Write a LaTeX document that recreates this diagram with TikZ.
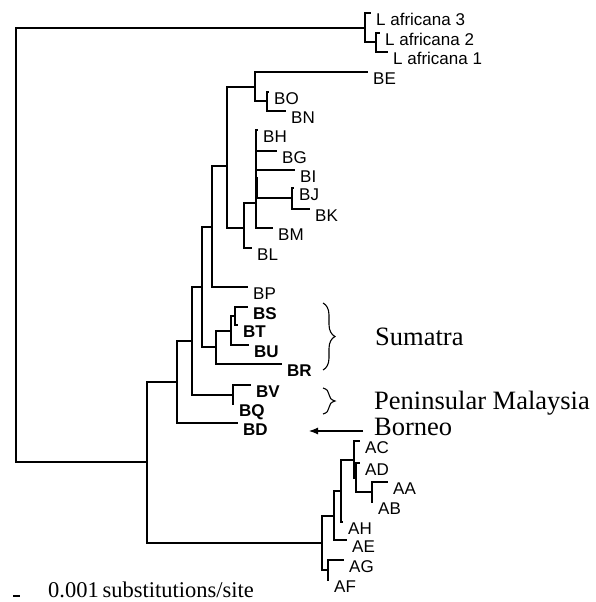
\documentclass[tikz,border=0pt]{standalone}
\usepackage{fontspec}
\setmainfont{Liberation Serif}
\setsansfont{Liberation Sans}
\usetikzlibrary{arrows.meta,decorations.pathreplacing}
\begin{document}
\begin{tikzpicture}[x=1bp,y=-1bp,
  br/.style={line width=1.3bp},
  thickbr/.style={line width=2.6bp},
  lab/.style={anchor=base west, inner sep=0pt, xshift=5bp, yshift=-12.3bp, font=\sffamily\fontsize{17bp}{20bp}\selectfont},
  blab/.style={lab, font=\sffamily\bfseries\fontsize{17bp}{20bp}\selectfont},
  region/.style={anchor=base west, inner sep=0pt, font=\rmfamily\fontsize{26.5bp}{30bp}\selectfont},
  brc/.style={decorate, decoration={brace, amplitude=12bp}, line width=1.1bp}]
\useasboundingbox (0,0) rectangle (596,602);
% ---------- internal nodes ----------
\coordinate (root) at (16,245);
\coordinate (laf) at (365,28);
\coordinate (laf2) at (376,42);
\coordinate (nE) at (147,462);
\coordinate (nD) at (177,382);
\coordinate (nC) at (192,341);
\coordinate (nBVQ) at (233,395);
\coordinate (nB) at (202,287);
\coordinate (nSum) at (216,347);
\coordinate (nSum2) at (231,331);
\coordinate (nSum3) at (235,316);
\coordinate (nA) at (212,227);
\coordinate (nBig) at (227,166);
\coordinate (nBEO) at (255,87);
\coordinate (nBON) at (267,101);
\coordinate (nBL) at (244,228);
\coordinate (nH) at (256,203);
\coordinate (nBJK) at (292,198);
\coordinate (nF) at (322,543);
\coordinate (nAFG) at (328,570);
\coordinate (nG) at (334,516);
\coordinate (nHn) at (341,491);
\coordinate (nI) at (354,460);
\coordinate (nJ) at (356,478);
\coordinate (nAAB) at (372,492);
% ---------- tips ----------
\coordinate (tLA3) at (371,13);
\coordinate (tLA2) at (380,33);
\coordinate (tLA1) at (388,52);
\coordinate (tBE) at (368,72);
\coordinate (tBO) at (269,92);
\coordinate (tBN) at (286,111);
\coordinate (tBH) at (258,130);
\coordinate (tBG) at (277,151);
\coordinate (tBI) at (295,170);
\coordinate (tBJ) at (294,188);
\coordinate (tBK) at (310,209);
\coordinate (tBM) at (273,228);
\coordinate (tBL) at (252,248);
\coordinate (tBP) at (248,287);
\coordinate (tBS) at (248,307);
\coordinate (tBT) at (238,325);
\coordinate (tBU) at (249,345);
\coordinate (tBR) at (282,364);
\coordinate (tBV) at (251,385);
\coordinate (tBQ) at (234,404);
\coordinate (tBD) at (238,423);
\coordinate (tAC) at (360,441);
\coordinate (tAD) at (360,463);
\coordinate (tAA) at (388,482);
\coordinate (tAB) at (373,502);
\coordinate (tAH) at (343,522);
\coordinate (tAE) at (347,540);
\coordinate (tAG) at (344,560);
\coordinate (tAF) at (329,580);
% ---------- branches ----------
\draw[br] (root) |- (laf);  \draw[br] (root) |- (nE);
\draw[br] (laf) |- (tLA3);  \draw[br] (laf) |- (laf2);
\draw[br] (laf2) |- (tLA2); \draw[br] (laf2) |- (tLA1);
\draw[br] (nE) |- (nD);     \draw[br] (nE) |- (nF);
\draw[br] (nD) |- (nC);     \draw[br] (nD) |- (tBD);
\draw[br] (nC) |- (nB);     \draw[br] (nC) |- (nBVQ);
\draw[br] (nBVQ) |- (tBV);  \draw[br] (nBVQ) |- (tBQ);
\draw[br] (nB) |- (nA);     \draw[br] (nB) |- (nSum);
\draw[br] (nSum) |- (nSum2); \draw[br] (nSum) |- (tBR);
\draw[br] (nSum2) |- (nSum3); \draw[br] (nSum2) |- (tBU);
\draw[br] (nSum3) |- (tBS); \draw[br] (nSum3) |- (tBT);
\draw[br] (nA) |- (nBig);   \draw[br] (nA) |- (tBP);
\draw[br] (nBig) |- (nBEO); \draw[br] (nBig) |- (nBL);
\draw[br] (nBEO) |- (tBE);  \draw[br] (nBEO) |- (nBON);
\draw[br] (nBON) |- (tBO);  \draw[br] (nBON) |- (tBN);
\draw[br] (nBL) |- (nH);    \draw[br] (nBL) |- (tBL);
\draw[br] (nH) |- (tBH);    \draw[br] (nH) |- (tBG);
\draw[br] (nH) |- (tBI);    \draw[br] (nH) |- (nBJK);
\draw[br] (nH) |- (tBM);
\draw[br] (nBJK) |- (tBJ);  \draw[br] (nBJK) |- (tBK);
\coordinate (hk1) at (256.5,177);
\coordinate (hk2) at (256.5,198);
\draw[thickbr] (hk1) -- (hk2);
\draw[br] (nF) |- (nG);     \draw[br] (nF) |- (nAFG);
\draw[br] (nAFG) |- (tAG);  \draw[br] (nAFG) |- (tAF);
\draw[br] (nG) |- (nHn);    \draw[br] (nG) |- (tAE);
\draw[br] (nHn) |- (nI);    \draw[br] (nHn) |- (tAH);
\draw[br] (nI) |- (tAC);    \draw[br] (nI) |- (nJ);
\draw[br] (nJ) |- (tAD);    \draw[br] (nJ) |- (nAAB);
\draw[br] (nAAB) |- (tAA);  \draw[br] (nAAB) |- (tAB);
\coordinate (ad1) at (355.5,463);
\coordinate (ad2) at (355.5,477);
\draw[thickbr] (ad1) -- (ad2);
% ---------- tip labels ----------
\node[lab] (lLA3) at (tLA3) {L africana 3};
\node[lab] (lLA2) at (tLA2) {L africana 2};
\node[lab] (lLA1) at (tLA1) {L africana 1};
\node[lab] (lBE) at (tBE) {BE};
\node[lab] (lBO) at (tBO) {BO};
\node[lab] (lBN) at (tBN) {BN};
\node[lab] (lBH) at (tBH) {BH};
\node[lab] (lBG) at (tBG) {BG};
\node[lab] (lBI) at (tBI) {BI};
\node[lab] (lBJ) at (tBJ) {BJ};
\node[lab] (lBK) at (tBK) {BK};
\node[lab] (lBM) at (tBM) {BM};
\node[lab] (lBL) at (tBL) {BL};
\node[lab] (lBP) at (tBP) {BP};
\node[blab] (lBS) at (tBS) {BS};
\node[blab] (lBT) at (tBT) {BT};
\node[blab] (lBU) at (tBU) {BU};
\node[blab] (lBR) at (tBR) {BR};
\node[blab] (lBV) at (tBV) {BV};
\node[blab] (lBQ) at (tBQ) {BQ};
\node[blab] (lBD) at (tBD) {BD};
\node[lab] (lAC) at (tAC) {AC};
\node[lab] (lAD) at (tAD) {AD};
\node[lab] (lAA) at (tAA) {AA};
\node[lab] (lAB) at (tAB) {AB};
\node[lab] (lAH) at (tAH) {AH};
\node[lab] (lAE) at (tAE) {AE};
\node[lab] (lAG) at (tAG) {AG};
\node[lab] (lAF) at (tAF) {AF};
% ---------- regions ----------
\node[region] (sum) at (375,345) {Sumatra};
\node[region] (pen) at (374,409) {Peninsular Malaysia};
\node[region] (bor) at (374,435) {Borneo};
\coordinate (bs1) at (323,303);
\coordinate (bs2) at (323,370);
\draw[brc] (bs1) -- (bs2);
\coordinate (bp1) at (323,388);
\coordinate (bp2) at (323,414);
\draw[brc] (bp1) -- (bp2);
\coordinate (arrS) at (363,431);
\coordinate (arrE) at (309,431);
\draw[line width=1.1bp, -{Latex[length=9bp,width=7bp]}] (arrS) -- (arrE);
% ---------- scale ----------
\coordinate (sc1) at (13,596);
\coordinate (sc2) at (20,596);
\draw[line width=1.6bp] (sc1) -- (sc2);
\node[anchor=base west, inner sep=0pt, font=\rmfamily\fontsize{22.5bp}{26bp}\selectfont] (sctext) at (48,597) {0.001\,substitutions/site};
\end{tikzpicture}
\end{document}
